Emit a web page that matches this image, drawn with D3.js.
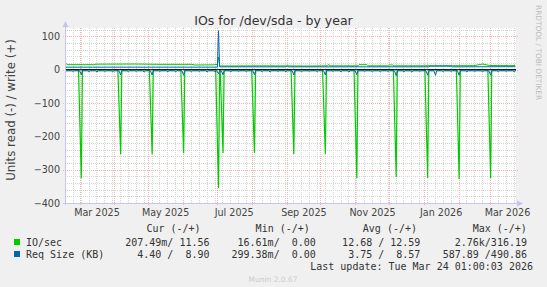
<!DOCTYPE html>
<html>
<head>
<meta charset="utf-8">
<script src="https://cdn.jsdelivr.net/npm/d3@7"></script>
<style>
body { margin: 0; background: #f0f0f0; }
svg { display: block; }
text { white-space: pre; }
</style>
</head>
<body>
<script>
// for /dev/sda

// big read bursts: first sunday of every month, plus the jul 2 event
var spikeDays = ["2025-03-02", "2025-04-06", "2025-05-04", "2025-06-01", "2025-07-02", "2025-07-06",
    "2025-08-03", "2025-09-07", "2025-10-05", "2025-11-02", "2025-12-07", "2026-01-04",
    "2026-02-01", "2026-03-01"];
var ioRead = [-325, -254, -254, -251, -355, -250, -250, -253, -253, -325, -322, -325, -328, -325];
var ioReadBase = -0.5;

// IO/sec write, level changes
var ioWriteDays = ["2025-02-16", "2025-02-18", "2025-03-13", "2025-03-15", "2025-04-20", "2025-05-10",
    "2025-06-08", "2025-06-11", "2025-06-28", "2025-07-01", "2025-07-02", "2025-07-03", "2025-08-10",
    "2025-09-20", "2025-10-07", "2025-10-08", "2025-10-09", "2025-11-03", "2025-11-04", "2025-11-11",
    "2025-11-12", "2025-11-30", "2025-12-01", "2025-12-04", "2025-12-05", "2026-02-14", "2026-02-22",
    "2026-02-28", "2026-03-23"];
var ioWrite = [19, 15, 15, 16.5, 17, 16, 16, 14, 14.5, 16, 38, 11, 11.5,
    11, 11.5, 16, 11.5, 11.5, 15, 15,
    11.5, 11.5, 14, 14, 11.5, 12, 17,
    12.5, 12];

// Req Size write
var reqWriteDays = ["2025-02-16", "2025-07-01", "2025-07-02", "2025-07-03", "2025-08-31", "2025-09-01",
    "2025-09-02", "2026-01-05", "2026-01-06", "2026-01-25", "2026-01-26", "2026-03-23"];
var reqWrite = [7.5, 7.5, 117, 8.5, 8.5, 12, 8.5, 8.5, 10.5, 10.5, 8.5, 9];

// Req Size read: small dip every sunday starting 2025-02-16
var reqReadWeekStart = "2025-02-16";
var reqReadWeekly = [-6, -5, -15, -6, -7, -5, -6, -16, -6, -5, -7, -16, -5, -6, -6, -17, -6, -5, -7, -6,
    -15, -6, -5, -6, -15, -6, -7, -5, -6, -16, -6, -5, -6, -16, -5, -6, -7, -15, -5, -6,
    -6, -5, -18, -6, -7, -5, -17, -17, -6, -5, -17, -6, -5, -6, -17, -6, -5, -6];
var reqReadExtraDays = ["2025-07-02"];
var reqReadExtra = [-12];
var reqReadBase = -3.5;

var yTicks = [100, 0, -100, -200, -300, -400];
var xLabels = ["2025-03-01", "2025-05-01", "2025-07-01", "2025-09-01", "2025-11-01", "2026-01-01", "2026-03-01"];

var legendRows = [
    {name: "IO/sec", color: "#00cc00", cols: ["207.49m/ 11.56", "16.61m/  0.00", "12.68 / 12.59", "2.76k/316.19"]},
    {name: "Req Size (KB)", color: "#0066b3", cols: ["4.40 /  8.90", "299.38m/  0.00", "3.75 /  8.57", "587.89 /490.86"]}
];
var legendHeads = ["Cur (-/+)", "Min (-/+)", "Avg (-/+)", "Max (-/+)"];

const W = 547, H = 287;
var plotL = 65, plotR = 516, plotT = 28, plotB = 203;

var parseDay = d3.timeParse("%Y-%m-%d");
function noon(s) { return d3.timeHour.offset(parseDay(s), 12); }

var svg = d3.select("body").append("svg").attr("width", W).attr("height", H)
    .style("font-family", "'DejaVu Sans', sans-serif");

var x = d3.scaleTime()
    .domain([parseDay("2025-02-16"), new Date(2026, 2, 24, 1)])
    .range([plotL, plotR]);
var y = d3.scaleLinear().domain([-400, 125]).range([plotB, plotT]);

// plot background
svg.append("rect").attr("x", plotL).attr("y", plotT)
    .attr("width", plotR - plotL).attr("height", plotB - plotT).attr("fill", "#ffffff");

var grid = svg.append("g").attr("shape-rendering", "crispEdges");
// minor grid
grid.selectAll(".vmin").data(d3.timeWeek.range(x.domain()[0], x.domain()[1]))
    .enter().append("line")
    .attr("x1", function (d) { return Math.round(x(d)) + 0.5; })
    .attr("x2", function (d) { return Math.round(x(d)) + 0.5; })
    .attr("y1", plotT).attr("y2", plotB)
    .attr("stroke", "#d4d4d4").attr("stroke-dasharray", "1,1");
grid.selectAll(".hmin").data(d3.range(-400, 126, 20))
    .enter().append("line")
    .attr("x1", plotL).attr("x2", plotR)
    .attr("y1", function (d) { return Math.round(y(d)) + 0.5; })
    .attr("y2", function (d) { return Math.round(y(d)) + 0.5; })
    .attr("stroke", "#d4d4d4").attr("stroke-dasharray", "1,1");
// major grid
grid.selectAll(".vmaj").data(d3.timeMonth.range(x.domain()[0], x.domain()[1]))
    .enter().append("line")
    .attr("x1", function (d) { return Math.round(x(d)) + 0.5; })
    .attr("x2", function (d) { return Math.round(x(d)) + 0.5; })
    .attr("y1", plotT).attr("y2", plotB + 3)
    .attr("stroke", "#f4b4b4").attr("stroke-dasharray", "1,1");
grid.selectAll(".hmaj").data(yTicks)
    .enter().append("line")
    .attr("x1", plotL - 2).attr("x2", plotR + 2)
    .attr("y1", function (d) { return Math.round(y(d)) + 0.5; })
    .attr("y2", function (d) { return Math.round(y(d)) + 0.5; })
    .attr("stroke", "#f4b4b4").attr("stroke-dasharray", "1,1");

// axes (labels only, the lines come after)
var xAxis = d3.axisBottom(x)
    .tickValues(xLabels.map(function (s) { return d3.timeDay.offset(parseDay(s), 15); }))
    .tickFormat(d3.timeFormat("%b %Y"))
    .tickSize(0).tickPadding(6);
var gx = svg.append("g").attr("transform", "translate(0," + plotB + ")").call(xAxis);
gx.select(".domain").remove();
gx.selectAll("text").attr("fill", "#444").style("font-size", "9.6px").style("font-family", "'DejaVu Sans', sans-serif");

var yAxis = d3.axisLeft(y).tickValues(yTicks).tickSize(0).tickPadding(5);
var gy = svg.append("g").attr("transform", "translate(" + plotL + ",0)").call(yAxis);
gy.select(".domain").remove();
gy.selectAll("text").attr("fill", "#444").style("font-size", "9.6px").style("font-family", "'DejaVu Sans', sans-serif");

// series
// lead = how many days the line takes to go down into a dip
function spikeLine(base, days, vals, lead) {
    var pts = [{t: x.domain()[0], v: base}, {t: x.domain()[1], v: base}];
    days.forEach(function (d, i) {
        pts.push({t: d3.timeHour.offset(d, -24 * lead), v: base});
        pts.push({t: d, v: vals[i]});
        pts.push({t: d3.timeDay.offset(d, 1), v: base});
    });
    pts.sort(function (a, b) { return a.t - b.t; });
    return pts;
}
function levelLine(days, vals) {
    return days.map(function (s, i) { return {t: noon(s), v: vals[i]}; });
}

var weeks = reqReadWeekly.map(function (v, i) { return d3.timeHour.offset(d3.timeWeek.offset(parseDay(reqReadWeekStart), i), 12); });

var ioReadPts = spikeLine(ioReadBase, spikeDays.map(noon), ioRead, 2.5);
var reqReadPts = spikeLine(reqReadBase, weeks.concat(reqReadExtraDays.map(noon)), reqReadWeekly.concat(reqReadExtra), 1.5);

svg.append("clipPath").attr("id", "plot").append("rect")
    .attr("x", plotL).attr("y", plotT).attr("width", plotR - plotL).attr("height", plotB - plotT);

var line = d3.line().x(function (d) { return x(d.t); }).y(function (d) { return y(d.v); });
var plot = svg.append("g").attr("clip-path", "url(#plot)");

plot.append("path").datum(ioReadPts).attr("d", line)
    .attr("fill", "none").attr("stroke", "#00cc00").attr("stroke-width", 1.2);
plot.append("path").datum(levelLine(ioWriteDays, ioWrite)).attr("d", line)
    .attr("fill", "none").attr("stroke", "#00cc00").attr("stroke-width", 1);
plot.append("path").datum(reqReadPts).attr("d", line)
    .attr("fill", "none").attr("stroke", "#0066b3").attr("stroke-width", 1);
plot.append("path").datum(levelLine(reqWriteDays, reqWrite)).attr("d", line)
    .attr("fill", "none").attr("stroke", "#0066b3").attr("stroke-width", 1);

// zero line
plot.append("line").attr("x1", plotL).attr("x2", plotR)
    .attr("y1", y(0)).attr("y2", y(0))
    .attr("stroke", "#000").attr("stroke-width", 1);

// axis lines with arrows
var axisCol = "#c4c4f4";
svg.append("line").attr("x1", plotL + 0.5).attr("x2", plotL + 0.5).attr("y1", plotB + 2).attr("y2", plotT - 4)
    .attr("stroke", axisCol);
svg.append("path").attr("d", "M" + (plotL - 2.5) + "," + (plotT - 1) + "L" + (plotL + 3.5) + "," + (plotT - 1) + "L" + (plotL + 0.5) + "," + (plotT - 7) + "Z")
    .attr("fill", axisCol);
svg.append("line").attr("x1", plotL - 2).attr("x2", plotR + 3).attr("y1", plotB + 0.5).attr("y2", plotB + 0.5)
    .attr("stroke", axisCol);
svg.append("path").attr("d", "M" + (plotR + 1) + "," + (plotB - 2.5) + "L" + (plotR + 1) + "," + (plotB + 3.5) + "L" + (plotR + 7) + "," + (plotB + 0.5) + "Z")
    .attr("fill", axisCol);

// titles
svg.append("text").attr("x", W / 2).attr("y", 24.5).attr("text-anchor", "middle")
    .attr("fill", "#333").style("font-size", "12.5px").text("IOs for /dev/sda - by year");
svg.append("text").attr("transform", "translate(10.5,110) rotate(-90)").attr("dy", "0.35em")
    .attr("text-anchor", "middle").attr("fill", "#444").style("font-size", "11.8px")
    .text("Units read (-) / write (+)");
svg.append("text").attr("transform", "translate(538.5,5) rotate(90)").attr("dy", "0.35em")
    .attr("fill", "#bbb").style("font-size", "7.4px").text("RRDTOOL / TOBI OETIKER");

// legend
var mono = "'DejaVu Sans Mono', monospace";
var headX = [200.6, 309.8, 417, 526.9];
var colX = [209.5, 315.8, 420.4, 527];
var lg = svg.append("g").style("font-family", mono).style("font-size", "10px").attr("fill", "#333");
lg.selectAll(".head").data(legendHeads).enter().append("text")
    .attr("x", function (d, i) { return headX[i]; }).attr("y", 232)
    .attr("text-anchor", "end").text(function (d) { return d; });
legendRows.forEach(function (r, k) {
    var yy = 245.5 + k * 12;
    lg.append("rect").attr("x", 14).attr("y", yy - 6.5).attr("width", 6).attr("height", 6).attr("fill", r.color);
    lg.append("text").attr("x", 26).attr("y", yy).text(r.name);
    lg.selectAll(".c" + k).data(r.cols).enter().append("text")
        .attr("x", function (d, i) { return colX[i]; }).attr("y", yy)
        .attr("text-anchor", "end").text(function (d) { return d; });
});
lg.append("text").attr("x", 533).attr("y", 269.8).attr("text-anchor", "end")
    .text("Last update: Tue Mar 24 01:00:03 2026");
svg.append("text").attr("x", 273).attr("y", 282).attr("text-anchor", "middle")
    .attr("fill", "#ccc").style("font-size", "7.5px").text("Munin 2.0.67");
</script>
</body>
</html>
